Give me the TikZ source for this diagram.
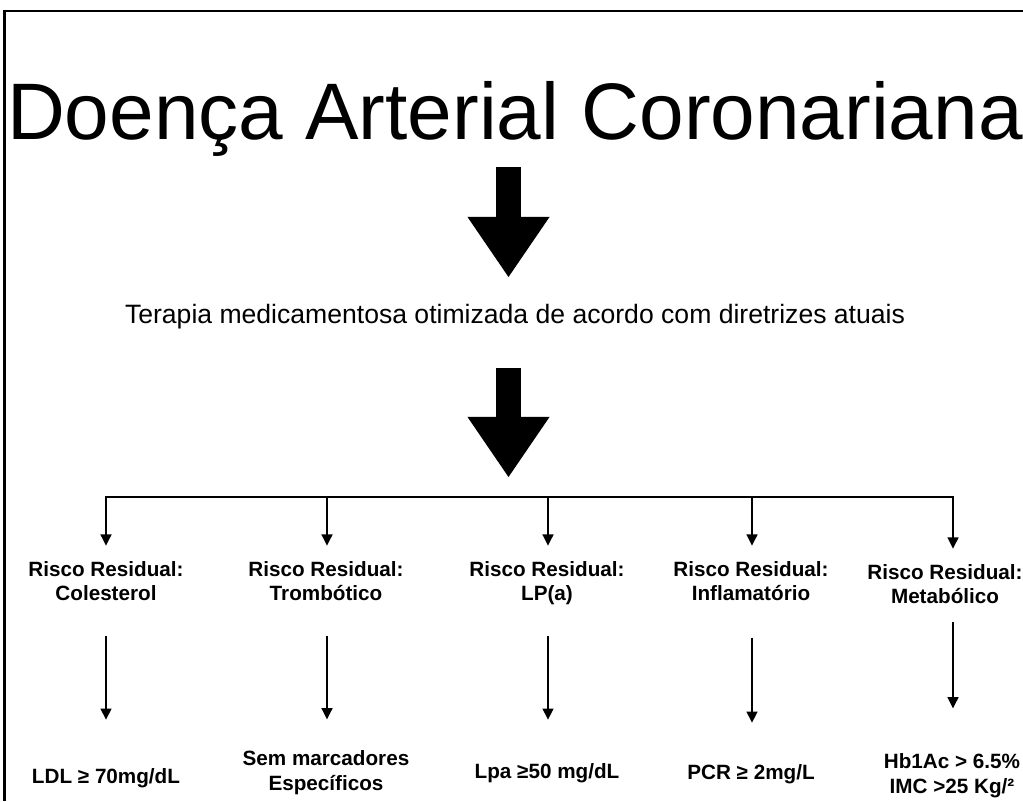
\documentclass[tikz,border=0pt]{standalone}
\usepackage{fontspec}
\setmainfont{Liberation Sans}
\usetikzlibrary{arrows.meta,positioning,calc}
\tikzset{
	titletext/.style={inner sep=0pt, anchor=base, text depth=0pt, font=\fontsize{57}{68}\selectfont},
	subtext/.style={inner sep=0pt, anchor=base, text height=0pt, text depth=0pt, font=\fontsize{18.9}{22}\selectfont},
	riskbox/.style={inner sep=0pt, anchor=base, align=center, font=\bfseries\fontsize{14.7}{16.4}\selectfont},
	valbox/.style={inner sep=0pt, anchor=base, align=center, font=\bfseries\fontsize{14.7}{17.3}\selectfont},
	bigarr/.style={line width=0.625cm, -{Triangle[width=2.05cm, length=1.5cm, line width=0pt]}},
	smallarr/.style={line width=1.3pt, -{Triangle[width=0.27cm, length=0.28cm]}},
	frameline/.style={line width=1.8pt}
}
\begin{document}
\begin{tikzpicture}[x=0.025cm, y=-0.025cm]
			\useasboundingbox (0,0) rectangle (1023,801);
			\draw[frameline] (4.5,801) -- (4.5,11) -- (1023,11);
			\node[titletext] (title) at (515,140) {Doença Arterial Coronariana};
			\node[subtext] (sub) at (515,323) {Terapia medicamentosa otimizada de acordo com diretrizes atuais};
			\coordinate (split) at (508.5,497);
			\coordinate (b1) at (106,497);
			\coordinate (b2) at (327,497);
			\coordinate (b3) at (548,497);
			\coordinate (b4) at (752,497);
			\coordinate (b5) at (953,497);
			\node[riskbox] (h1) at (106,600) {Risco Residual:\\Colesterol};
			\node[riskbox] (h2) at (326,600) {Risco Residual:\\Trombótico};
			\node[riskbox] (h3) at (547,600) {Risco Residual:\\LP(a)};
			\node[riskbox] (h4) at (751,600) {Risco Residual:\\Inflamatório};
			\node[riskbox] (h5) at (945,603) {Risco Residual:\\Metabólico};
			\node[valbox] (v1) at (106,783) {LDL ≥ 70mg/dL};
			\node[valbox] (v2) at (326,790) {Sem marcadores\\Específicos};
			\node[valbox] (v3) at (547,778) {Lpa ≥50 mg/dL};
			\node[valbox] (v4) at (751,779) {PCR ≥ 2mg/L};
			\node[valbox] (v5) at (952,793) {Hb1Ac > 6.5\%\\IMC >25 Kg/²};
			\draw[bigarr, shorten <=0.675cm, shorten >=1.125cm] (title.south -| split) -- (sub.north -| split);
			\draw[bigarr, shorten <=1.1cm, shorten >=0.5cm] (sub.south -| split) -- (split);
			\draw[smallarr, shorten >=0.4cm] (b3) -- (b1) -- (b1 |- h1.north);
			\draw[smallarr, shorten >=0.4cm] (b3) -- (b5) -- (b5 |- h5.north);
			\draw[smallarr, shorten >=0.4cm] (b2) -- (b2 |- h2.north);
			\draw[smallarr, shorten >=0.4cm] (b3) -- (b3 |- h3.north);
			\draw[smallarr, shorten >=0.4cm] (b4) -- (b4 |- h4.north);
			\draw[smallarr, shorten <=0.875cm, shorten >=1.2cm] (h1.south -| b1) -- (v1.north -| b1);
			\draw[smallarr, shorten <=0.875cm, shorten >=0.775cm] (h2.south -| b2) -- (v2.north -| b2);
			\draw[smallarr, shorten <=0.775cm, shorten >=1.075cm] (h3.south -| b3) -- (v3.north -| b3);
			\draw[smallarr, shorten <=0.925cm, shorten >=1.025cm] (h4.south -| b4) -- (v4.north -| b4);
			\draw[smallarr, shorten <=0.475cm, shorten >=1.125cm] (h5.south -| b5) -- (v5.north -| b5);
		\end{tikzpicture}
\end{document}
